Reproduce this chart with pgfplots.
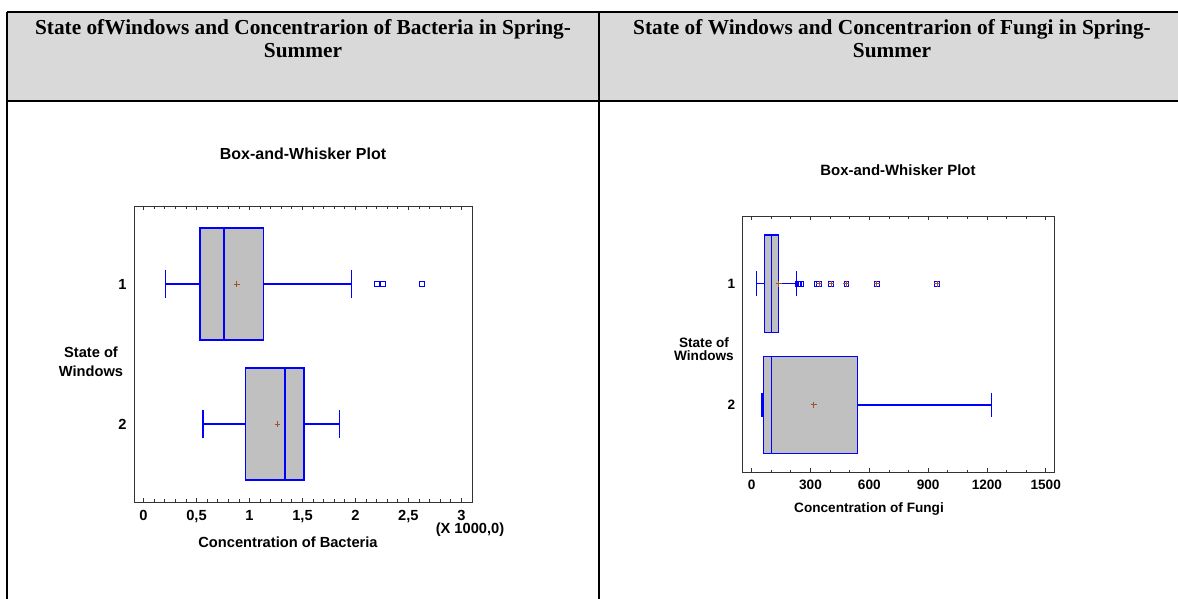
\documentclass[border=0pt]{standalone}
\usepackage{pgfplots}
\pgfplotsset{compat=1.18}
\usepgfplotslibrary{statistics}
\usepackage{fontspec}
\setmainfont{Liberation Serif}
\setsansfont{Liberation Sans}

\definecolor{hdr}{HTML}{D9D9D9}
\definecolor{boxfill}{HTML}{C0C0C0}
\definecolor{boxline}{HTML}{0000FF}
\definecolor{meanc}{HTML}{A0522D}
\definecolor{framec}{HTML}{333333}

\pgfplotsset{
  bw/.style={
    scale only axis,
    axis line style={framec, line width=0.75pt},
    y dir=reverse,
    ymin=0.443, ymax=2.557,
    ytick={1,2}, yticklabels={1,2},
    ytick style={draw=none},
    tick align=inside,
    xtick style={framec, line width=0.6pt},
    major tick length=3.2pt,
    minor tick length=2pt,
    yticklabel style={xshift=-2pt},
    clip=false,
  },
  boxsty/.style={draw=boxline, fill=boxfill, line width=0.9pt},
  outl/.style={only marks, mark=square, mark size=1.8pt, draw=boxline,
    mark options={line width=0.7pt, fill=white}},
  meanpt/.style={only marks, mark=+, mark size=2.2pt, draw=meanc,
    mark options={line width=0.7pt}},
}

\begin{document}
\begin{tikzpicture}
% ---------- table frame and headers ----------
\begin{scope}[x=0.75pt, y=-0.75pt]
  \path[use as bounding box] (0,0) rectangle (1178,599);
  \fill[hdr] (7,12) rectangle (1178,101);
  \draw[line width=1.5pt] (7,12) -- (1178,12);
  \draw[line width=1.5pt] (7,101) -- (1178,101);
  \draw[line width=1.5pt] (7,12) -- (7,599);
  \draw[line width=1.3pt] (599,12) -- (599,599);
  \begin{scope}[font=\bfseries\fontsize{16}{18}\selectfont]
    \node[anchor=base] at (303,34.5) {State ofWindows and Concentrarion of Bacteria in Spring-};
    \node[anchor=base] at (303,58) {Summer};
    \node[anchor=base] at (892,34.5) {State of Windows and Concentrarion of Fungi in Spring-};
    \node[anchor=base] at (892,58) {Summer};
  \end{scope}
  % left chart texts
  \begin{scope}[font=\sffamily\bfseries\fontsize{11}{13}\selectfont]
    \node[font=\sffamily\bfseries\fontsize{12}{14}\selectfont] at (303,154) {Box-and-Whisker Plot};
    \node[align=center, font=\sffamily\bfseries\fontsize{11}{14.2}\selectfont] at (91,362) {State of\\Windows};
    \node at (288,542) {Concentration of Bacteria};
    \node at (470,530) {(X 1000,0)};
  \end{scope}
  % right chart texts
  \begin{scope}[font=\sffamily\bfseries\fontsize{10.2}{10.2}\selectfont]
    \node[font=\sffamily\bfseries\fontsize{11.2}{13}\selectfont] at (898,170) {Box-and-Whisker Plot};
    \node[align=center] at (704,349) {State of\\Windows};
    \node at (869,509) {Concentration of Fungi};
  \end{scope}
\end{scope}

% ---------- bacteria ----------
\begin{axis}[bw,
  at={(100.5pt,-376.5pt)}, anchor=south west,
  width=253.5pt, height=222pt,
  xmin=-0.09, xmax=3.1,
  xtick={0,0.5,1,1.5,2,2.5,3},
  xticklabels={0,{0,5},1,{1,5},2,{2,5},3},
  minor x tick num=4,
  ticklabel style={font=\sffamily\bfseries\fontsize{11}{13}\selectfont},
  xticklabel style={yshift=-3pt},
]
\addplot[boxsty, boxplot prepared={draw direction=x, draw position=1,
  lower whisker=0.205, lower quartile=0.532, median=0.759,
  upper quartile=1.131, upper whisker=1.963,
  box extend=0.8, whisker extend=0.2}] coordinates {};
\addplot[boxsty, boxplot prepared={draw direction=x, draw position=2,
  lower whisker=0.561, lower quartile=0.964, median=1.336,
  upper quartile=1.515, upper whisker=1.853,
  box extend=0.8, whisker extend=0.2}] coordinates {};
\addplot[outl] coordinates {(2.205,1) (2.262,1) (2.63,1)};
\addplot[meanpt] coordinates {(0.879,1) (1.264,2)};
\end{axis}

% ---------- fungi ----------
\begin{axis}[bw,
  at={(557pt,-354.4pt)}, anchor=south west,
  width=234.2pt, height=192.4pt,
  xmin=-46, xmax=1547,
  xtick={0,300,600,900,1200,1500},
  minor x tick num=2,
  ticklabel style={font=\sffamily\bfseries\fontsize{10.2}{12}\selectfont},
  xticklabel style={yshift=-2.2pt},
  /pgf/number format/assume math mode=true,
  /pgf/number format/set thousands separator={},
]
\addplot[boxsty, boxplot prepared={draw direction=x, draw position=1,
  lower whisker=25, lower quartile=64, median=100,
  upper quartile=136, upper whisker=230,
  box extend=0.8, whisker extend=0.2}] coordinates {};
\addplot[boxsty, boxplot prepared={draw direction=x, draw position=2,
  lower whisker=53, lower quartile=59, median=100,
  upper quartile=540, upper whisker=1222,
  box extend=0.8, whisker extend=0.2}] coordinates {};
\addplot[outl] coordinates {(238,1) (244,1) (250,1) (331,1) (345,1) (405,1) (483,1) (638,1) (947,1)};
\addplot[meanpt] coordinates {(345,1) (405,1) (483,1) (638,1) (947,1)};
\addplot[meanpt] coordinates {(138,1) (316,2)};
\end{axis}
\end{tikzpicture}
\end{document}
